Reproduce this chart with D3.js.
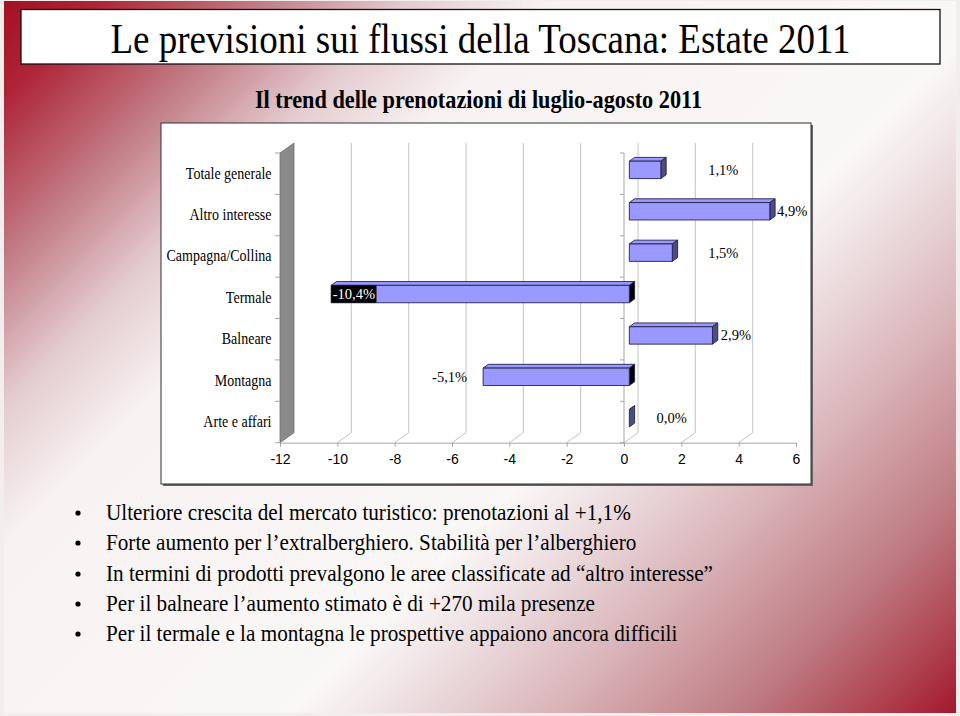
<!DOCTYPE html>
<html><head><meta charset="utf-8">
<script src="https://cdn.jsdelivr.net/npm/d3@7"></script>
<style>body{margin:0;background:#fff}svg{display:block}</style>
</head><body><svg id="c" width="960" height="716"></svg>
<script>
// ---------- data ----------
const title = "Le previsioni sui flussi della Toscana: Estate 2011";
const subtitle = "Il trend delle prenotazioni di luglio-agosto 2011";
const categories = ["Totale generale","Altro interesse","Campagna/Collina","Termale","Balneare","Montagna","Arte e affari"];
const values = [1.1, 4.9, 1.5, -10.4, 2.9, -5.1, 0.0];
const valueLabels = ["1,1%","4,9%","1,5%","-10,4%","2,9%","-5,1%","0,0%"];
const xTicks = [-12,-10,-8,-6,-4,-2,0,2,4,6];
const bullets = [
  "Ulteriore crescita del mercato turistico: prenotazioni al +1,1%",
  "Forte aumento per l\u2019extralberghiero. Stabilit\u00e0 per l\u2019alberghiero",
  "In termini di prodotti prevalgono le aree classificate ad \u201caltro interesse\u201d",
  "Per il balneare l\u2019aumento stimato \u00e8 di +270 mila presenze",
  "Per il termale e la montagna le prospettive appaiono ancora difficili"
];

// ---------- layout ----------
const serif = "'Liberation Serif','Times New Roman',serif";
const sans = "'Liberation Sans',Arial,sans-serif";
const svg = d3.select("#c");
const defs = svg.append("defs");

function stext(parent, x, y, sy){
  return parent.append("text").attr("x",0).attr("y",0)
    .attr("transform",`translate(${x},${y}) scale(1,${sy})`);
}

// background gradient
const g = defs.append("linearGradient").attr("id","bg")
  .attr("gradientUnits","userSpaceOnUse").attr("x1",0).attr("y1",0).attr("x2",838).attr("y2",838);
[[0,"#a30f24"],[0.06,"#ae2436"],[0.16,"#c27e87"],[0.245,"#e4ccd0"],[0.33,"#f8f3f3"],
 [0.6,"#faf7f7"],[0.66,"#eddfe1"],[0.75,"#dab6ba"],[0.865,"#bf7c84"],[0.94,"#af4652"],[1,"#a3142a"]]
 .forEach(([o,c])=>g.append("stop").attr("offset",o).attr("stop-color",c));

svg.append("rect").attr("width",960).attr("height",716).attr("fill","#f3eeee");
svg.append("rect").attr("x",4).attr("y",1).attr("width",952).attr("height",712).attr("fill","url(#bg)");

// title box
svg.append("rect").attr("x",21).attr("y",9.5).attr("width",919).attr("height",54.5)
  .attr("fill","#fff").attr("stroke","#111").attr("stroke-width",1.3);
stext(svg, 480.5, 53, 1.13).attr("text-anchor","middle")
  .attr("font-family",serif).attr("font-size",37).attr("fill","#000").text(title);

// subtitle
stext(svg, 478.5, 108, 1.16).attr("text-anchor","middle")
  .attr("font-family",serif).attr("font-weight","bold").attr("font-size",22.3).attr("fill","#000").text(subtitle);

// chart box
svg.append("rect").attr("x",163).attr("y",125).attr("width",650).attr("height",361).attr("fill","#666");
svg.append("rect").attr("x",161).attr("y",123).attr("width",650).attr("height",361)
  .attr("fill","#fff").attr("stroke","#333").attr("stroke-width",1);

// scales
const X = d3.scaleLinear().domain([-12,6]).range([280,796]);
const Y = d3.scaleBand().domain(categories).range([153,442.7]);
const DX = 14, DY = -10;
const P = (v, yy, z) => [X(v) + DX*z, yy + DY*z];
const yTop = Y.range()[0], yBot = Y.range()[1];
const grid = "#c4c4c4", axisCol = "#a6a6a6";

// left wall
svg.append("polygon")
  .attr("points", [[X(-12),yTop],[X(-12)+DX,yTop+DY],[X(-12)+DX,yBot+DY],[X(-12),yBot]].map(p=>p.join(",")).join(" "))
  .attr("fill","#8a8a8a").attr("stroke","#707070").attr("stroke-width",0.8);

// back gridlines and floor diagonals
xTicks.filter(t=>t>-12 && t<6).forEach(t=>{
  svg.append("line").attr("x1",X(t)+DX).attr("x2",X(t)+DX).attr("y1",yTop+DY).attr("y2",yBot+DY)
    .attr("stroke",grid).attr("stroke-width",1);
  svg.append("line").attr("x1",X(t)).attr("y1",yBot).attr("x2",X(t)+DX).attr("y2",yBot+DY)
    .attr("stroke",grid).attr("stroke-width",1);
});

// front x axis
const xAxis = d3.axisBottom(X).tickValues(xTicks).tickSize(4).tickPadding(7).tickFormat(d3.format("d"));
const gx = svg.append("g").attr("transform",`translate(0,${yBot})`).call(xAxis);
gx.select(".domain").attr("stroke",axisCol);
gx.selectAll(".tick line").attr("stroke",axisCol);
gx.selectAll(".tick text").attr("font-family",sans).attr("font-size",14).attr("fill","#000")
  .text(d=>String(d));

// category axis at x = 0 (front) and ticks at the wall
const bounds = categories.map(c=>Y(c)).concat([yBot]);
svg.append("line").attr("x1",X(0)).attr("x2",X(0)).attr("y1",yTop).attr("y2",yBot).attr("stroke",axisCol);
bounds.forEach(b=>{
  svg.append("line").attr("x1",X(0)-4).attr("x2",X(0)).attr("y1",b).attr("y2",b).attr("stroke",axisCol);
  svg.append("line").attr("x1",X(-12)-5).attr("x2",X(-12)).attr("y1",b).attr("y2",b).attr("stroke",axisCol);
});

// category labels
categories.forEach(c=>{
  stext(svg, 271.5, Y(c)+Y.bandwidth()/2+5, 1.12)
    .attr("text-anchor","end").attr("font-family",serif).attr("font-size",14).attr("fill","#000").text(c);
});

// bars
const z0 = 0.38, z1 = 0.76, hh = 8.7;
const pts = a => a.map(p=>p.join(",")).join(" ");
const barG = svg.append("g").attr("stroke","#22224a").attr("stroke-width",0.9).attr("stroke-linejoin","round");
categories.forEach((c,i)=>{
  const v = values[i];
  const yc = Y(c) + Y.bandwidth()/2;
  const a = Math.min(0,v), b = Math.max(0,v);
  barG.append("polygon").attr("fill","#9999ff")
    .attr("points", pts([P(a,yc-hh,z0),P(b,yc-hh,z0),P(b,yc-hh,z1),P(a,yc-hh,z1)]));
  barG.append("polygon").attr("fill", v<0 ? "#000000" : "#4d4d80")
    .attr("points", pts([P(b,yc-hh,z0),P(b,yc-hh,z1),P(b,yc+hh,z1),P(b,yc+hh,z0)]));
  if (b > a) {
    const f0 = P(a,yc-hh,z0), f1 = P(b,yc+hh,z0);
    barG.append("rect").attr("fill","#9999ff").attr("x",f0[0]).attr("y",f0[1])
      .attr("width",f1[0]-f0[0]).attr("height",f1[1]-f0[1]);
  }
});

// value labels (placement follows the original slide)
const labelRule = [
  {at:2.75, anchor:"start"}, {end:true, gap:2}, {at:2.75, anchor:"start"},
  {inside:true}, {end:true, gap:3}, {neg:true, gap:16}, {at:0.95, anchor:"start"}
];
categories.forEach((c,i)=>{
  const v = values[i], r = labelRule[i];
  const yb = Y(c) + Y.bandwidth()/2 - 3.8 + 5;
  const t = svg.append("text").attr("font-family",serif).attr("font-size",14.5).attr("y",yb).text(valueLabels[i]);
  if (r.at !== undefined) {
    t.attr("x", P(r.at,0,z0)[0]).attr("text-anchor",r.anchor).attr("fill","#000");
  } else if (r.end) {
    t.attr("x", P(v,0,z1)[0] + r.gap).attr("text-anchor","start").attr("fill","#000");
  } else if (r.neg) {
    t.attr("x", P(v,0,z0)[0] - r.gap).attr("text-anchor","end").attr("fill","#000");
  } else if (r.inside) {
    const x0 = P(v,0,z0)[0];
    t.attr("x", x0 + 1.5).attr("text-anchor","start").attr("fill","#fff");
    const bb = t.node().getBBox();
    svg.insert("rect", () => t.node()).attr("x",x0).attr("y",Y(c)+Y.bandwidth()/2-hh-3.8)
      .attr("width",bb.width+3).attr("height",2*hh).attr("fill","#000");
  }
});

// bullets
const lineY = [520, 550, 581, 611, 641];
bullets.forEach((s,i)=>{
  svg.append("circle").attr("cx",78).attr("cy",lineY[i]-7).attr("r",2.6).attr("fill","#000");
  stext(svg, 106, lineY[i], 1.1).attr("font-family",serif)
    .attr("font-size",21.2).attr("fill","#000").text(s);
});
</script></body></html>
